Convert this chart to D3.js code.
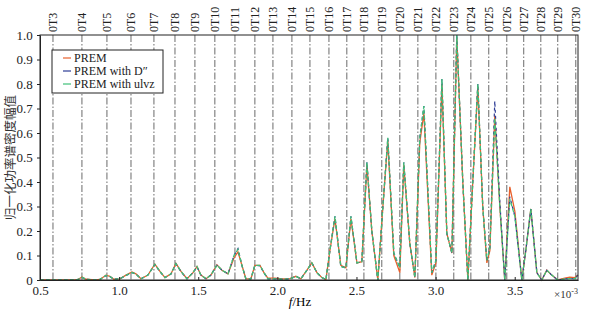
<!DOCTYPE html>
<html>
<head>
<meta charset="utf-8">
<script src="https://cdn.jsdelivr.net/npm/d3@7"></script>
<style>
  body { margin: 0; background: #fff; }
  svg { display: block; }
  text { font-family: "Liberation Serif", "DejaVu Serif", serif; }
</style>
</head>
<body>
<div id="wrapper"></div>
<script>
// frequency samples (mHz)
const freq = [0.500, 0.626, 0.721, 0.740, 0.765, 0.791, 0.847, 0.879, 0.917, 0.942,
  0.967, 1.005, 1.043, 1.081, 1.106, 1.138, 1.182, 1.226, 1.258, 1.290,
  1.328, 1.359, 1.391, 1.429, 1.467, 1.492, 1.517, 1.549, 1.580, 1.618,
  1.650, 1.688, 1.726, 1.751, 1.776, 1.801, 1.833, 1.858, 1.890, 1.915,
  1.940, 1.985, 2.035, 2.079, 2.117, 2.149, 2.187, 2.218, 2.250, 2.281,
  2.307, 2.332, 2.364, 2.401, 2.433, 2.465, 2.503, 2.534, 2.566, 2.597,
  2.635, 2.667, 2.698, 2.736, 2.774, 2.799, 2.837, 2.869, 2.900, 2.926,
  2.976, 3.002, 3.040, 3.071, 3.103, 3.134, 3.172, 3.204, 3.235, 3.267,
  3.298, 3.324, 3.343, 3.374, 3.406, 3.437, 3.469, 3.501, 3.545, 3.570,
  3.602, 3.640, 3.671, 3.703, 3.734, 3.772, 3.816, 3.848, 3.880, 3.899];

const prem = [0, 0, 0, 0.002, 0.012, 0.003, 0, 0.002, 0.02, 0.015,
  0.003, 0.005, 0.02, 0.033, 0.025, 0.005, 0.02, 0.065, 0.035, 0.01,
  0.025, 0.068, 0.035, 0.005, 0.03, 0.055, 0.02, 0.005, 0.02, 0.062,
  0.04, 0.025, 0.09, 0.115, 0.06, 0.005, 0.005, 0.06, 0.06, 0.03,
  0.008, 0.008, 0.005, 0.006, 0.015, 0.005, 0.04, 0.07, 0.03, 0.01,
  0.002, 0.12, 0.25, 0.06, 0.05, 0.25, 0.07, 0.075, 0.47, 0.2,
  0, 0.3, 0.57, 0.1, 0.03, 0.47, 0.15, 0.01, 0.56, 0.68,
  0.02, 0.07, 0.80, 0.19, 0.11, 0.99, 0.4, 0, 0.4, 0.79,
  0.3, 0.07, 0.12, 0.67, 0.3, 0, 0.38, 0.28, 0, 0.12,
  0.29, 0.03, 0, 0.04, 0.02, 0, 0.008, 0.012, 0.01, 0.02];

const premD = [0, 0, 0, 0.002, 0.01, 0.003, 0, 0.002, 0.018, 0.014,
  0.003, 0.005, 0.018, 0.03, 0.024, 0.005, 0.02, 0.063, 0.034, 0.01,
  0.024, 0.066, 0.034, 0.005, 0.03, 0.054, 0.02, 0.005, 0.02, 0.06,
  0.04, 0.025, 0.1, 0.128, 0.06, 0.005, 0.005, 0.06, 0.058, 0.03,
  0.005, 0.005, 0.003, 0.005, 0.015, 0.005, 0.04, 0.07, 0.03, 0.01,
  0.002, 0.12, 0.26, 0.055, 0.05, 0.26, 0.07, 0.075, 0.48, 0.2,
  0, 0.3, 0.58, 0.11, 0.05, 0.48, 0.15, 0.01, 0.58, 0.71,
  0.03, 0.08, 0.82, 0.19, 0.11, 1.0, 0.4, 0, 0.4, 0.80,
  0.3, 0.08, 0.13, 0.73, 0.32, 0, 0.34, 0.26, 0, 0.12,
  0.29, 0.03, 0, 0.04, 0.02, 0, 0.004, 0.006, 0.005, 0.02];

const premU = [0, 0, 0, 0.002, 0.011, 0.003, 0, 0.002, 0.019, 0.014,
  0.003, 0.005, 0.019, 0.031, 0.024, 0.005, 0.02, 0.064, 0.035, 0.01,
  0.025, 0.067, 0.035, 0.005, 0.03, 0.055, 0.02, 0.005, 0.02, 0.061,
  0.04, 0.025, 0.1, 0.125, 0.06, 0.005, 0.005, 0.06, 0.06, 0.03,
  0.005, 0.005, 0.003, 0.005, 0.015, 0.005, 0.04, 0.07, 0.03, 0.01,
  0.002, 0.12, 0.26, 0.055, 0.05, 0.26, 0.07, 0.075, 0.48, 0.2,
  0, 0.3, 0.58, 0.11, 0.05, 0.48, 0.15, 0.01, 0.58, 0.71,
  0.03, 0.08, 0.82, 0.19, 0.11, 1.0, 0.4, 0, 0.4, 0.80,
  0.3, 0.08, 0.13, 0.66, 0.3, 0, 0.33, 0.26, 0, 0.12,
  0.29, 0.03, 0, 0.04, 0.02, 0, 0.004, 0.006, 0.005, 0.02];

// toroidal mode frequencies (mHz)
const modeNames = ["0T3","0T4","0T5","0T6","0T7","0T8","0T9","0T10","0T11","0T12",
  "0T13","0T14","0T15","0T16","0T17","0T18","0T19","0T20","0T21","0T22",
  "0T23","0T24","0T25","0T26","0T27","0T28","0T29","0T30"];
const modeFreq = [0.582, 0.765, 0.923, 1.075, 1.220, 1.353, 1.479, 1.605, 1.732, 1.858,
  1.972, 2.092, 2.206, 2.326, 2.439, 2.547, 2.660, 2.774, 2.888, 3.002,
  3.115, 3.223, 3.336, 3.450, 3.557, 3.665, 3.772, 3.886];

const xTicks = [0.5, 1.0, 1.5, 2.0, 2.5, 3.0, 3.5];
const yTicks = [0, 0.1, 0.2, 0.3, 0.4, 0.5, 0.6, 0.7, 0.8, 0.9, 1.0];

const seriesNames = ["PREM", "PREM with D\u2033", "PREM with ulvz"];
const seriesColors = ["#e8602c", "#2d3c96", "#3fc077"];

const dimension = {
  width: 612,
  height: 312,
  margin: { top: 35, left: 40, bottom: 32, right: 34 }
};
dimension.boundedWidth = dimension.width - dimension.margin.left - dimension.margin.right;
dimension.boundedHeight = dimension.height - dimension.margin.top - dimension.margin.bottom;

const svg = d3.select("#wrapper").append("svg")
  .attr("width", dimension.width)
  .attr("height", dimension.height);

const xScaler = d3.scaleLinear()
  .domain([0.5, 3.9])
  .range([dimension.margin.left, dimension.width - dimension.margin.right]);
const yScaler = d3.scaleLinear()
  .domain([0, 1])
  .range([dimension.height - dimension.margin.bottom, dimension.margin.top]);

// mode lines
svg.append("g").selectAll("line")
  .data(modeFreq)
  .enter().append("line")
  .attr("x1", d => xScaler(d)).attr("x2", d => xScaler(d))
  .attr("y1", yScaler(1)).attr("y2", yScaler(0))
  .attr("stroke", "#444")
  .attr("stroke-width", 0.8)
  .attr("stroke-dasharray", "7,2,1.5,2");

svg.append("g").selectAll("text")
  .data(modeNames)
  .enter().append("text")
  .attr("transform", (d, i) => `translate(${xScaler(modeFreq[i]) + 4},32) rotate(-90)`)
  .style("font-size", "12px")
  .attr("fill", "#222")
  .text(d => d);

// series
const lineGen = vals => d3.line()
  .x((d, i) => xScaler(freq[i]))
  .y(d => yScaler(d))(vals);

svg.append("path").attr("d", lineGen(prem))
  .attr("fill", "none").attr("stroke", seriesColors[0]).attr("stroke-width", 1.3);
svg.append("path").attr("d", lineGen(premD))
  .attr("fill", "none").attr("stroke", seriesColors[1]).attr("stroke-width", 1.2)
  .attr("stroke-dasharray", "3,3");
svg.append("path").attr("d", lineGen(premU))
  .attr("fill", "none").attr("stroke", seriesColors[2]).attr("stroke-width", 1.3)
  .attr("stroke-dasharray", "4,2");

// axes
const xAxis = svg.append("g")
  .attr("transform", `translate(0,${yScaler(0)})`)
  .call(d3.axisBottom(xScaler).tickValues(xTicks).tickSize(-3).tickSizeOuter(0).tickFormat(d3.format(".1f")));
const yAxis = svg.append("g")
  .attr("transform", `translate(${xScaler(0.5)},0)`)
  .call(d3.axisLeft(yScaler).tickValues(yTicks).tickSize(3).tickSizeOuter(0)
    .tickFormat(d => d === 0 ? "0" : d3.format(".1f")(d)));
[xAxis, yAxis].forEach(a => {
  a.selectAll("text").style("font-size", "13px").style("font-family", "Liberation Serif").attr("fill", "#222");
  a.select(".domain").attr("stroke", "#222");
  a.selectAll(".tick line").attr("stroke", "#222");
});
xAxis.selectAll("text").attr("dy", "0.95em");
yAxis.selectAll("text").attr("dx", "-0.1em");

// frame
svg.append("rect")
  .attr("x", xScaler(0.5)).attr("y", yScaler(1))
  .attr("width", xScaler(3.9) - xScaler(0.5))
  .attr("height", yScaler(0) - yScaler(1))
  .attr("fill", "none").attr("stroke", "#222").attr("stroke-width", 1);

// labels
svg.append("text")
  .attr("x", 300).attr("y", 306)
  .attr("text-anchor", "middle")
  .style("font-size", "13px")
  .html('<tspan font-style="italic">f</tspan>/Hz');

svg.append("text")
  .attr("x", 566).attr("y", 298)
  .attr("text-anchor", "middle")
  .style("font-size", "11px")
  .attr("fill", "#333")
  .html('×10<tspan dy="-4" font-size="8px">-3</tspan>');

svg.append("text")
  .attr("transform", `translate(15,${(yScaler(0) + yScaler(1)) / 2}) rotate(-90)`)
  .attr("text-anchor", "middle")
  .style("font-family", "'Noto Sans CJK SC'")
  .style("font-size", "12.5px")
  .attr("fill", "#333")
  .text("归一化功率谱密度幅值");

// legend
const legend = svg.append("g").attr("transform", "translate(52,50)");
legend.append("rect")
  .attr("width", 111).attr("height", 43)
  .attr("fill", "#fff").attr("stroke", "#222").attr("stroke-width", 1);
seriesNames.forEach((name, i) => {
  const y = 8 + i * 13;
  legend.append("line")
    .attr("x1", 11).attr("x2", 19).attr("y1", y).attr("y2", y)
    .attr("stroke", seriesColors[i]).attr("stroke-width", 1.2);
  legend.append("text")
    .attr("x", 22).attr("y", y + 4)
    .style("font-size", "12px")
    .attr("fill", "#222")
    .text(name);
});
</script>
</body>
</html>
